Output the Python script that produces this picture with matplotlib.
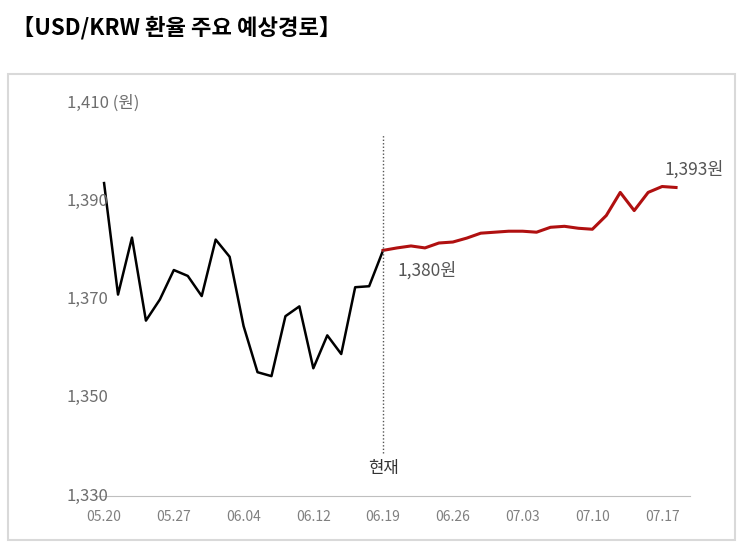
import matplotlib
matplotlib.use("Agg")
import matplotlib.pyplot as plt
from matplotlib.patches import Rectangle
import matplotlib.transforms as mt

plt.rcParams['font.family'] = ['Noto Sans CJK KR', 'DejaVu Sans']

past = [1393.7,1371,1382.6,1365.7,1370,1376,1374.8,1370.7,1382.2,1378.7,1364.6,1355.2,1354.4,1366.6,1368.6,1356,1362.7,1358.9,1372.5,1372.7,1380]
forecast = [1380,1380.5,1380.9,1380.5,1381.5,1381.7,1382.5,1383.5,1383.7,1383.9,1383.9,1383.7,1384.7,1384.9,1384.5,1384.3,1387.1,1391.8,1388.1,1391.8,1393,1392.8]
xlabels = ["05.20","05.27","06.04","06.12","06.19","06.26","07.03","07.10","07.17"]
yticks = [1330,1350,1370,1390,1410]

W, H = 741, 554
fig = plt.figure(figsize=(W/100, H/100), dpi=100)
fig.patches.append(Rectangle((8/W, 14/H), 727/W, 466/H, transform=fig.transFigure,
                             fill=False, ec='#d9d9d9', lw=1.5))
fig.text(12/W, 1-28/H, "【USD/KRW 환율 주요 예상경로】", fontsize=16, fontweight='bold',
         va='center', ha='left')

ax = fig.add_axes([95/W, 1-496/H, 595/W, 393/H])
xp = list(range(len(past)))
xf = list(range(len(past)-1, len(past)-1+len(forecast)))
ax.plot(xp, past, color='black', lw=1.8)
ax.plot(xf, forecast, color='#b01010', lw=2.2)
ax.set_xlim(-0.65, 42.0)
ax.set_ylim(1330, 1410)
for s in ['top', 'right', 'left']:
    ax.spines[s].set_visible(False)
ax.spines['bottom'].set_color('#bfbfbf')
ax.set_yticks([])
ax.set_xticks(range(0, 5*len(xlabels), 5))
ax.set_xticklabels(xlabels, color='#808080', fontsize=10)
ax.tick_params(axis='x', length=0, pad=10)

tr = mt.blended_transform_factory(fig.transFigure, ax.transData)
for v in yticks:
    lab = f"{v:,}" + (" (원)" if v == 1410 else "")
    ax.text(67/W, v, lab, transform=tr, ha='left', va='center', color='#6e6e6e', fontsize=12)

xi = len(past)-1
ax.plot([xi, xi], [1338.8, 1403.5], color='#555555', lw=1, ls=(0, (1, 1.5)))
ax.text(xi, 1335.5, "현재", ha='center', va='center', fontsize=12, color='#333333')
ax.text(xi+1, 1376, "1,380원", ha='left', va='center', fontsize=12.5, color='#555555')
ax.text(xf[-1]-0.8, 1396.5, "1,393원", ha='left', va='center', fontsize=12.5, color='#555555')

fig.savefig("out.png", dpi=100)
